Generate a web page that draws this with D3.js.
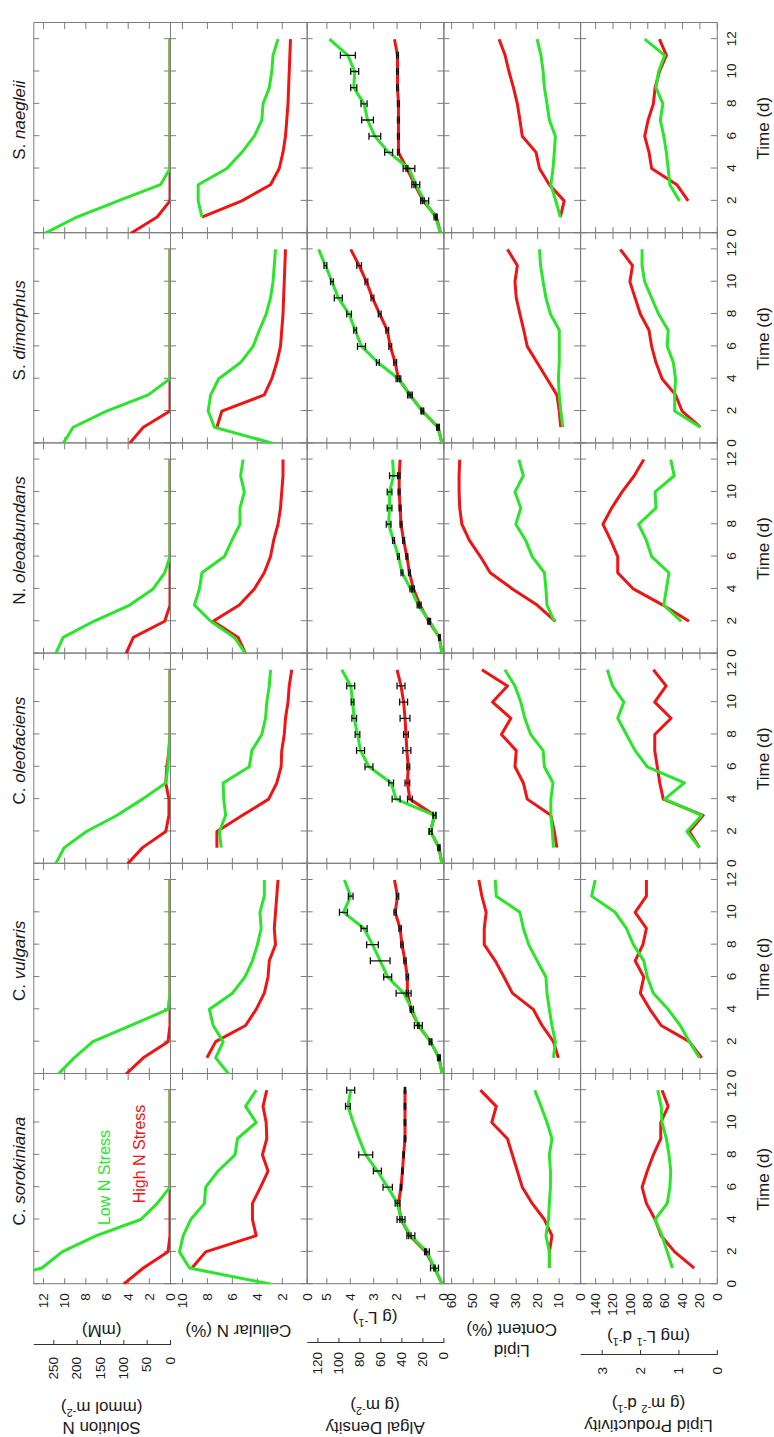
<!DOCTYPE html>
<html>
<head>
<meta charset="utf-8">
<script src="https://cdn.jsdelivr.net/npm/d3@7"></script>
<style>
  html, body { margin: 0; padding: 0; background: #ffffff; }
  svg { display: block; font-family: "Liberation Sans", Arial, sans-serif; }
</style>
</head>
<body>
<svg id="chart" width="774" height="1437"></svg>
<script>
// ---------- data ----------
// Species, left to right in the (landscape) figure
const speciesGenus = ["C.", "C.", "C.", "N.", "S.", "S."];
const speciesName  = ["sorokiniana", "vulgaris", "oleofaciens", "oleoabundans", "dimorphus", "naegleii"];

const days = [0, 1, 2, 3, 4, 5, 6, 7, 8, 9, 10, 11, 12];

// Solution N (mM), one row per species
const solutionNLow = [
  [18.2, 12.1, 10.2, 6.96, 2.76, 1.21, 0, 0, 0, 0, 0, 0, 0],
  [10.56, 9.06, 7.29, 3.69, 0.19, 0, 0, 0, 0, 0, 0, 0, 0],
  [10.8, 10.0, 7.9, 5.0, 2.6, 0.4, 0.2, 0.1, 0, 0, 0, 0, 0],
  [10.8, 10.1, 7.2, 3.8, 1.6, 0.5, 0, 0, 0, 0, 0, 0, 0],
  [10.1, 9.15, 6.0, 2.05, 0, 0, 0, 0, 0, 0, 0, 0, 0],
  [11.8, 8.8, 4.9, 0.9, 0, 0, 0, 0, 0, 0, 0, 0, 0]
];
const solutionNHigh = [
  [4.39, 2.52, 0.19, 0, 0, 0, 0, 0, 0, 0, 0, 0, 0],
  [4.16, 2.52, 0.19, 0, 0, 0, 0, 0, 0, 0, 0, 0, 0],
  [4.0, 2.6, 0.4, 0.1, 0.1, 0.4, 0.3, 0.1, 0, 0, 0, 0, 0],
  [4.16, 3.46, 0.5, 0, 0, 0, 0, 0, 0, 0, 0, 0, 0],
  [3.83, 2.52, 0, 0, 0, 0, 0, 0, 0, 0, 0, 0, 0],
  [3.69, 1.21, 0, 0, 0, 0, 0, 0, 0, 0, 0, 0, 0]
];

// Cellular N (%)
const cellularNLow = [
  [2.84, 9.4, 10.2, 9.9, 9.3, 8.2, 8.1, 7.1, 5.75, 5.55, 4.05, 4.9, 4.05],
  [6.25, 7.3, 6.7, 7.5, 7.8, 5.95, 4.95, 4.35, 3.95, 3.65, 3.75, 3.4, 3.4],
  [null, 6.85, 7.0, 6.5, 6.65, 6.7, 4.6, 4.4, 3.6, 3.3, 3.2, 3.0, 2.9],
  [4.9, 5.8, 7.7, 9.0, 8.6, 8.4, 6.6, 6.0, 5.35, 5.35, 5.0, 5.3, 5.1],
  [2.7, 7.4, 7.9, 7.7, 7.05, 5.3, 4.3, 3.8, 3.25, 2.9, 2.7, 2.6, 2.5],
  [null, 8.4, 8.7, 8.7, 6.4, 5.2, 4.2, 3.6, 3.5, 3.0, 2.8, 2.7, 2.3]
];
const cellularNHigh = [
  [null, 9.2, 8.1, 4.05, 4.35, 4.35, 3.7, 3.1, 3.55, 3.2, 3.25, 3.5, 3.2],
  [null, 8.0, 7.3, 4.9, 4.05, 3.4, 3.1, 3.0, 2.5, 2.6, 2.5, 2.4, 2.3],
  [null, 7.2, 7.2, 5.15, 3.05, 2.4, 2.05, 2.0, 1.8, 1.7, 1.5, 1.4, 1.2],
  [4.9, 5.5, 7.5, 5.4, 4.2, 3.4, 2.9, 2.65, 2.3, 2.1, 2.0, 1.9, 1.9],
  [null, 7.2, 6.8, 3.4, 2.8, 2.4, 2.1, 2.0, 1.9, 1.85, 1.8, 1.75, 1.7],
  [null, 8.4, 5.2, 2.9, 2.2, 1.9, 1.7, 1.6, 1.5, 1.45, 1.4, 1.35, 1.3]
];

// Algal density (g L-1) and its standard deviation
const densityLow = [
  [0.05, 0.38, 0.7, 1.39, 1.81, 1.96, 2.38, 2.82, 3.32, 3.6, 3.85, 4.08, 3.96],
  [0.05, 0.19, 0.55, 1.07, 1.34, 1.7, 2.38, 2.7, 3.03, 3.39, 4.27, 3.96, 4.23],
  [0.06, 0.19, 0.55, 0.38, 2.02, 2.23, 3.18, 3.54, 3.67, 3.81, 3.88, 3.96, 4.34],
  [0.06, 0.17, 0.59, 1.07, 1.39, 1.77, 1.92, 2.13, 2.34, 2.3, 2.3, 2.13, 2.17],
  [0.06, 0.23, 0.9, 1.43, 1.92, 2.8, 3.5, 3.77, 4.03, 4.49, 4.76, 5.04, 5.33],
  [0.12, 0.34, 0.8, 1.18, 1.47, 2.34, 2.93, 3.24, 3.39, 3.83, 3.79, 4.08, 4.87]
];
const densityHigh = [
  [0.05, 0.38, 0.75, 1.43, 1.81, 1.92, 1.81, 1.75, 1.7, 1.64, 1.64, 1.64, 1.64],
  [0.05, 0.19, 0.55, 1.07, 1.39, 1.54, 1.54, 1.64, 1.77, 1.85, 2.06, 1.96, 2.09],
  [0.06, 0.19, 0.55, 0.38, 1.43, 1.54, 1.5, 1.56, 1.6, 1.64, 1.7, 1.81, 1.98],
  [0.06, 0.17, 0.63, 1.0, 1.28, 1.45, 1.56, 1.7, 1.81, 1.85, 1.89, 1.89, 1.85],
  [0.06, 0.23, 0.9, 1.43, 1.92, 2.06, 2.27, 2.4, 2.72, 3.03, 3.29, 3.6, 3.96],
  [0.12, 0.3, 0.86, 1.22, 1.56, 1.92, 1.92, 1.92, 1.92, 1.96, 1.96, 1.96, 2.09]
];
const densityLowSD = [
  [null, 0.17, 0.1, 0.17, 0.17, 0.1, 0.2, 0.17, 0.3, null, null, 0.1, 0.17],
  [null, 0.06, 0.06, 0.17, 0.06, 0.32, 0.17, 0.42, 0.25, 0.13, 0.17, 0.1, null],
  [null, 0.04, 0.06, 0.06, 0.17, 0.1, 0.17, 0.17, 0.1, 0.1, 0.06, 0.17, null],
  [null, 0.03, 0.04, 0.05, 0.04, 0.04, 0.04, 0.04, 0.1, 0.1, 0.1, 0.17, null],
  [null, 0.06, 0.06, 0.1, 0.1, 0.06, 0.17, 0.06, 0.1, 0.17, 0.06, 0.06, null],
  [null, 0.06, 0.17, 0.17, 0.25, 0.17, 0.25, 0.25, 0.13, 0.13, 0.17, 0.32, null]
];
const densityHighSD = [
  [null, 0.03, 0.03, 0.05, 0.05, 0.05, 0.03, 0.03, 0.03, 0.03, 0.03, 0.03, 0.03],
  [null, 0.03, 0.03, 0.03, 0.03, 0.05, 0.05, 0.05, 0.05, 0.05, 0.05, 0.05, null],
  [null, 0.04, 0.06, 0.06, 0.1, 0.1, 0.06, 0.17, 0.1, 0.21, 0.17, 0.17, null],
  [null, 0.03, 0.04, 0.05, 0.04, 0.04, 0.04, 0.04, 0.04, 0.04, 0.04, 0.04, null],
  [null, 0.03, 0.03, 0.04, 0.04, 0.06, 0.06, 0.06, 0.06, 0.06, 0.06, 0.1, null],
  [null, 0.03, 0.04, 0.04, 0.04, 0.04, 0.04, 0.04, 0.04, 0.04, 0.04, 0.04, null]
];

// Lipid content (%)
const lipidLow = [
  [null, 14.3, 14.3, 15.9, 14.7, 14.3, 13.8, 13.8, 14.3, 13.1, 15.4, 18.2, 21.1],
  [null, 12.4, 11.5, 13.1, 14.3, 15.4, 15.9, 20, 23.9, 26.4, 28, 39, 39.5],
  [null, 12.4, 12.9, 13.6, 13.6, 12.6, 16.6, 17.2, 23, 25.7, 27.6, 30.3, 35],
  [null, null, 12, 15.4, 15.9, 16.6, 22.3, 25.3, 29.9, 27.6, 30.3, 26.4, 28.5],
  [null, 8.0, 9.0, 9.7, 10.1, 9.7, 9.7, 9.7, 13.8, 15.9, 17.2, 18.4, 18.9],
  [null, 9.2, 11.3, 13.6, 12.6, 12, 11.5, 14.3, 15.4, 16.6, 17.2, 18.2, 20]
];
const lipidHigh = [
  [null, 14.3, 14.3, 13.1, 16.6, 22.3, 26.9, 29.2, 31.5, 33.8, 41.1, 39, 46.4],
  [null, 10.1, 12.4, 17.7, 21.8, 31.5, 35.4, 39.5, 44.6, 44.6, 43.7, 45.7, 47.1],
  [null, 10.8, 12, 13.6, 24.6, 26.4, 30.3, 29.7, 36.6, 32.2, 40.7, 33.8, 45.7],
  [null, null, 11.5, 20, 31.5, 41.8, 46.4, 51.5, 55, 56, 56.3, 56.3, 56],
  [null, 9.0, 9.7, 10.8, 15.4, 20, 24.6, 26.2, 28, 29.7, 30.3, 29.2, 33.8],
  [null, 9.2, 7.4, 14.3, 18.9, 20.5, 26.9, 28, 29.2, 31, 33.1, 34.9, 37.7]
];

// Lipid productivity (mg L-1 d-1)
const productivityLow = [
  [null, 51, 57, 63, 71, 57, 54, 53, 55, 58, 63, 64, 68],
  [null, 20, 31.6, 42, 56, 73, 80, 84, 96, 104, 117, 144, 140],
  [null, 20, 34.4, 17.4, 60, 37.3, 80, 94, 104, 114, 107, 120, 126],
  [null, null, 41, 61, 58, 55, 75, 81, 90, 70, 71, 49, 53],
  [null, 19, 48.5, 48.5, 47.5, 50, 57, 56, 67, 75, 83, 86, 86],
  [null, null, 43, 54, 56, 58, 61, 65, 62, 70, 67, 60, 83]
];
const productivityHigh = [
  [null, 26, 48.5, 64, 71, 81, 86, 80, 73, 64.5, 64.5, 56, 63],
  [null, 17.4, 31.6, 64, 77, 88, 84, 94, 85, 81, 94, 81, 81],
  [null, 20, 31.6, 15.7, 61.6, 65.6, 68.5, 71.4, 71.4, 52.6, 71.4, 58.3, 73],
  [null, null, 32, 62, 96, 114, 114, 122, 131, 121, 109, 95, 84],
  [null, 19, 40, 47.5, 63, 70, 75, 78, 88, 94, 100, 97, 111],
  [null, null, 33, 46, 75, 78, 83, 79, 73, 71, 66, 58, 66]
];

// Tick labels
const dayTicks = [0, 2, 4, 6, 8, 10, 12];
const solutionNTicks = [0, 2, 4, 6, 8, 10, 12];
const cellularNTicks = [0, 2, 4, 6, 8, 10];
const densityTicks = [0, 1, 2, 3, 4, 5];
const lipidTicks = [0, 10, 20, 30, 40, 50, 60];
const productivityTicks = [0, 20, 40, 60, 80, 100, 120, 140];
const solutionNAreaTicks = [0, 50, 100, 150, 200, 250];
const densityAreaTicks = [0, 20, 40, 60, 80, 100, 120];
const productivityAreaTicks = [0, 1, 2, 3];

// ---------- layout (landscape figure, rotated onto the page) ----------
const FIG_W = 1437;
const colLeft = 152.8, colW = 210.2;
const rowTop = 33.3, rowH = 136.7;
const dayMax = 13;
const GREEN = "#2ae62a", RED = "#f01414", FRAME = "#7c7c7c";

const rows = [
  { max: 12.92, ticks: solutionNTicks, low: solutionNLow, high: solutionNHigh },
  { max: 10.96, ticks: cellularNTicks, low: cellularNLow, high: cellularNHigh },
  { max: 5.84,  ticks: densityTicks, low: densityLow, high: densityHigh, lowSD: densityLowSD, highSD: densityHighSD },
  { max: 63.6,  ticks: lipidTicks, low: lipidLow, high: lipidHigh },
  { max: 157.3, ticks: productivityTicks, low: productivityLow, high: productivityHigh }
];

const svg = d3.select("#chart");
const fig = svg.append("g").attr("transform", `translate(0,${FIG_W}) rotate(-90)`);
const defs = svg.append("defs");

function styleAxis(g) {
  g.selectAll("path.domain").attr("stroke", FRAME).attr("stroke-width", 1);
  g.selectAll(".tick line").attr("stroke", FRAME).attr("stroke-width", 1);
  g.selectAll(".tick text").attr("font-size", 13.5).attr("fill", "#1a1a1a")
    .attr("font-family", '"Liberation Sans", Arial, sans-serif');
  g.attr("font-family", null).attr("font-size", null);
}

rows.forEach((row, r) => {
  const y0 = rowTop + r * rowH, y1 = y0 + rowH;
  const y = d3.scaleLinear().domain([0, row.max]).range([y1, y0]);

  speciesName.forEach((sp, c) => {
    const x0 = colLeft + c * colW, x1 = x0 + colW;
    const x = d3.scaleLinear().domain([0, dayMax]).range([x0, x1]);
    const cell = fig.append("g");

    const clipId = `clip-${r}-${c}`;
    defs.append("clipPath").attr("id", clipId)
      .append("rect").attr("x", x0).attr("y", y0).attr("width", colW).attr("height", rowH);

    // frame and inward ticks on all four sides
    cell.append("g").attr("transform", `translate(${x0},0)`)
      .call(d3.axisLeft(y).tickValues(row.ticks).tickSizeInner(-6).tickSizeOuter(0)
        .tickPadding(9).tickFormat(c === 0 ? d3.format("d") : ""))
      .call(styleAxis);
    cell.append("g").attr("transform", `translate(${x1},0)`)
      .call(d3.axisRight(y).tickValues(row.ticks).tickSizeInner(-6).tickSizeOuter(0).tickFormat(""))
      .call(styleAxis);
    cell.append("g").attr("transform", `translate(0,${y0})`)
      .call(d3.axisTop(x).tickValues(dayTicks).tickSizeInner(-6).tickSizeOuter(0).tickFormat(""))
      .call(styleAxis);
    cell.append("g").attr("transform", `translate(0,${y1})`)
      .call(d3.axisBottom(x).tickValues(dayTicks).tickSizeInner(-6).tickSizeOuter(0)
        .tickPadding(10).tickFormat(r === rows.length - 1 ? d3.format("d") : ""))
      .call(styleAxis);

    // series lines (high N stress beneath low N stress)
    const line = d3.line().defined(d => d[1] != null).x(d => x(d[0])).y(d => y(d[1]));
    const plot = cell.append("g").attr("clip-path", `url(#${clipId})`);
    [[row.high[c], RED], [row.low[c], GREEN]].forEach(([vals, col]) => {
      plot.append("path")
        .datum(days.map((d, i) => [d, vals[i]]))
        .attr("fill", "none").attr("stroke", col).attr("stroke-width", 3)
        .attr("stroke-linejoin", "round").attr("d", line);
    });

    // error bars on algal density
    if (row.lowSD) {
      [[row.high[c], row.highSD[c]], [row.low[c], row.lowSD[c]]].forEach(([vals, sd]) => {
        const pts = days.map((d, i) => ({ d, v: vals[i], e: sd[i] })).filter(p => p.e != null && p.v != null);
        const eb = plot.append("g").attr("stroke", "#111").attr("stroke-width", 1.3);
        eb.selectAll("line.bar").data(pts).join("line").attr("class", "bar")
          .attr("x1", p => x(p.d)).attr("x2", p => x(p.d))
          .attr("y1", p => y(p.v - p.e)).attr("y2", p => y(p.v + p.e));
        eb.selectAll("line.capLo").data(pts).join("line").attr("class", "capLo")
          .attr("x1", p => x(p.d) - 3.5).attr("x2", p => x(p.d) + 3.5)
          .attr("y1", p => y(p.v - p.e)).attr("y2", p => y(p.v - p.e));
        eb.selectAll("line.capHi").data(pts).join("line").attr("class", "capHi")
          .attr("x1", p => x(p.d) - 3.5).attr("x2", p => x(p.d) + 3.5)
          .attr("y1", p => y(p.v + p.e)).attr("y2", p => y(p.v + p.e));
      });
    }
  });
});

// species titles and time labels
speciesName.forEach((sp, c) => {
  const cx = colLeft + (c + 0.5) * colW;
  const t = fig.append("text").attr("x", cx + 8).attr("y", 25)
    .attr("text-anchor", "middle").attr("font-size", 17).attr("fill", "#1a1a1a");
  t.append("tspan").text(speciesGenus[c] + " ");
  t.append("tspan").attr("font-style", "italic").text(sp);
  fig.append("text").attr("x", cx).attr("y", 769)
    .attr("text-anchor", "middle").attr("font-size", 17).attr("fill", "#1a1a1a").text("Time (d)");
});

// legend
fig.append("text").attr("x", 259.5).attr("y", 110).attr("text-anchor", "middle")
  .attr("font-size", 16).attr("fill", GREEN).text("Low N Stress");
fig.append("text").attr("x", 283).attr("y", 145).attr("text-anchor", "middle")
  .attr("font-size", 16).attr("fill", RED).text("High N Stress");

// secondary (areal) axes
const secondary = [
  { row: 0, x: 92, max: 292.8, ticks: solutionNAreaTicks, pad: 12 },
  { row: 2, x: 94, max: 130.2, ticks: densityAreaTicks, pad: 9 },
  { row: 4, x: 82, max: 3.563, ticks: productivityAreaTicks, pad: 12 }
];
secondary.forEach(s => {
  const y0 = rowTop + s.row * rowH;
  const y2 = d3.scaleLinear().domain([0, s.max]).range([y0 + rowH, y0]);
  fig.append("g").attr("transform", `translate(${s.x},0)`)
    .call(d3.axisLeft(y2).tickValues(s.ticks).tickSizeInner(-5).tickSizeOuter(0)
      .tickPadding(s.pad).tickFormat(d3.format("d")))
    .call(g => {
      styleAxis(g);
      g.selectAll("path.domain, .tick line").attr("stroke", "#333");
    });
});

// axis titles (vertical in the landscape figure); [text] marks a superscript
function vTitle(xc, row, parts) {
  const yc = rowTop + (row + 0.5) * rowH;
  const t = fig.append("text")
    .attr("transform", `translate(${xc},${yc}) rotate(-90)`)
    .attr("text-anchor", "middle").attr("dy", "0.35em")
    .attr("font-size", 17).attr("fill", "#1a1a1a");
  let shift = 0;
  parts.forEach(p => {
    if (Array.isArray(p)) {
      t.append("tspan").attr("dy", -7 - shift).attr("font-size", 11).text(p[0]);
      shift = -7;
    } else {
      t.append("tspan").attr("dy", -shift).text(p);
      shift = 0;
    }
  });
}
vTitle(112.5, 0, ["(mM)"]);
vTitle(35, 0, ["(mmol m", ["-2"], ")"]);
vTitle(15, 0, ["Solution N"]);
vTitle(112.5, 1, ["Cellular N (%)"]);
vTitle(125, 2, ["(g L", ["-1"], ")"]);
vTitle(37, 2, ["(g m", ["-2"], ")"]);
vTitle(15, 2, ["Algal Density"]);
vTitle(113, 3, ["Content (%)"]);
vTitle(92, 3, ["Lipid"]);
vTitle(106, 4, ["(mg L", ["-1"], " d", ["-1"], ")"]);
vTitle(39, 4, ["(g m", ["-2"], " d", ["-1"], ")"]);
vTitle(17, 4, ["Lipid Productivity"]);
</script>
</body>
</html>
